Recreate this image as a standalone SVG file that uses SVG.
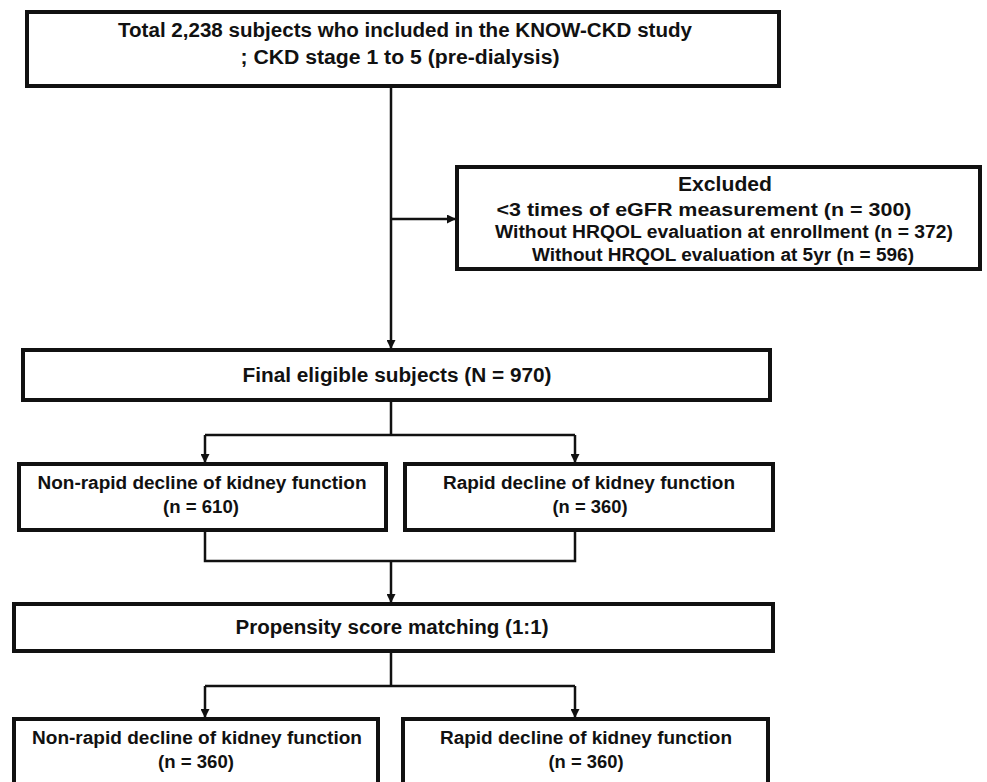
<svg xmlns="http://www.w3.org/2000/svg" width="987" height="782" viewBox="0 0 987 782">
<style>
.box{fill:#fff;stroke:#111;stroke-width:4}
.t{font-family:"Liberation Sans",Arial,sans-serif;font-weight:bold;fill:#111;text-anchor:middle}
.l1{font-size:20px}
.l2{font-size:18px}
.c{fill:none;stroke:#111;stroke-width:2.5}
</style>
<defs>
<marker id="ah" viewBox="0 0 10 10" refX="10" refY="5" markerWidth="9" markerHeight="9" markerUnits="userSpaceOnUse" orient="auto">
<path d="M0,0 L10,5 L0,10 z" fill="#111"/>
</marker>
</defs>
<rect width="987" height="782" fill="#fff"/>
<g id="connectors">
<path class="c" d="M391,86 V349" marker-end="url(#ah)"/>
<path class="c" d="M391,219 H456" marker-end="url(#ah)"/>
<path class="c" d="M391,400 V435 M205,435 H575"/>
<path class="c" d="M205,435 V463" marker-end="url(#ah)"/>
<path class="c" d="M575,435 V463" marker-end="url(#ah)"/>
<path class="c" d="M205,530 V561 H575 V530"/>
<path class="c" d="M391,561 V603" marker-end="url(#ah)"/>
<path class="c" d="M391,651 V686 M205,686 H575"/>
<path class="c" d="M205,686 V718" marker-end="url(#ah)"/>
<path class="c" d="M575,686 V718" marker-end="url(#ah)"/>
</g>
<g id="n-total">
<rect class="box" x="27" y="12" width="752" height="74"/>
<text class="t l1" x="405" y="37" textLength="574" lengthAdjust="spacingAndGlyphs">Total 2,238 subjects who included in the KNOW-CKD study</text>
<text class="t l1" x="400" y="64" textLength="319" lengthAdjust="spacingAndGlyphs">; CKD stage 1 to 5 (pre-dialysis)</text>
</g>
<g id="n-excluded">
<rect class="box" x="457" y="167" width="523" height="102"/>
<text class="t l1" x="725" y="191" textLength="94" lengthAdjust="spacingAndGlyphs">Excluded</text>
<text class="t l2" x="704" y="216" textLength="415" lengthAdjust="spacingAndGlyphs">&lt;3 times of eGFR measurement  (n = 300)</text>
<text class="t l2" x="724" y="238" textLength="458" lengthAdjust="spacingAndGlyphs">Without HRQOL evaluation at enrollment (n = 372)</text>
<text class="t l2" x="723" y="261" textLength="382" lengthAdjust="spacingAndGlyphs">Without HRQOL evaluation at 5yr (n = 596)</text>
</g>
<g id="n-final">
<rect class="box" x="23" y="350" width="747" height="50"/>
<text class="t l1" x="397" y="382" textLength="309" lengthAdjust="spacingAndGlyphs">Final eligible subjects (N = 970)</text>
</g>
<g id="n-nonrapid1">
<rect class="box" x="19" y="464" width="367" height="66"/>
<text class="t l2" x="202" y="489" textLength="329" lengthAdjust="spacingAndGlyphs">Non-rapid decline of kidney function</text>
<text class="t l2" x="201" y="513" textLength="76" lengthAdjust="spacingAndGlyphs">(n = 610)</text>
</g>
<g id="n-rapid1">
<rect class="box" x="405" y="464" width="368" height="66"/>
<text class="t l2" x="589" y="489" textLength="292" lengthAdjust="spacingAndGlyphs">Rapid decline of kidney function</text>
<text class="t l2" x="590" y="513" textLength="75" lengthAdjust="spacingAndGlyphs">(n = 360)</text>
</g>
<g id="n-psm">
<rect class="box" x="14" y="604" width="759" height="47"/>
<text class="t l1" x="392" y="634" textLength="313" lengthAdjust="spacingAndGlyphs">Propensity score matching (1:1)</text>
</g>
<g id="n-nonrapid2">
<rect class="box" x="14" y="719" width="364" height="90"/>
<text class="t l2" x="197" y="744" textLength="330" lengthAdjust="spacingAndGlyphs">Non-rapid decline of kidney function</text>
<text class="t l2" x="196" y="768" textLength="76" lengthAdjust="spacingAndGlyphs">(n = 360)</text>
</g>
<g id="n-rapid2">
<rect class="box" x="403" y="719" width="365" height="90"/>
<text class="t l2" x="586" y="744" textLength="292" lengthAdjust="spacingAndGlyphs">Rapid decline of kidney function</text>
<text class="t l2" x="586" y="768" textLength="75" lengthAdjust="spacingAndGlyphs">(n = 360)</text>
</g>
</svg>
